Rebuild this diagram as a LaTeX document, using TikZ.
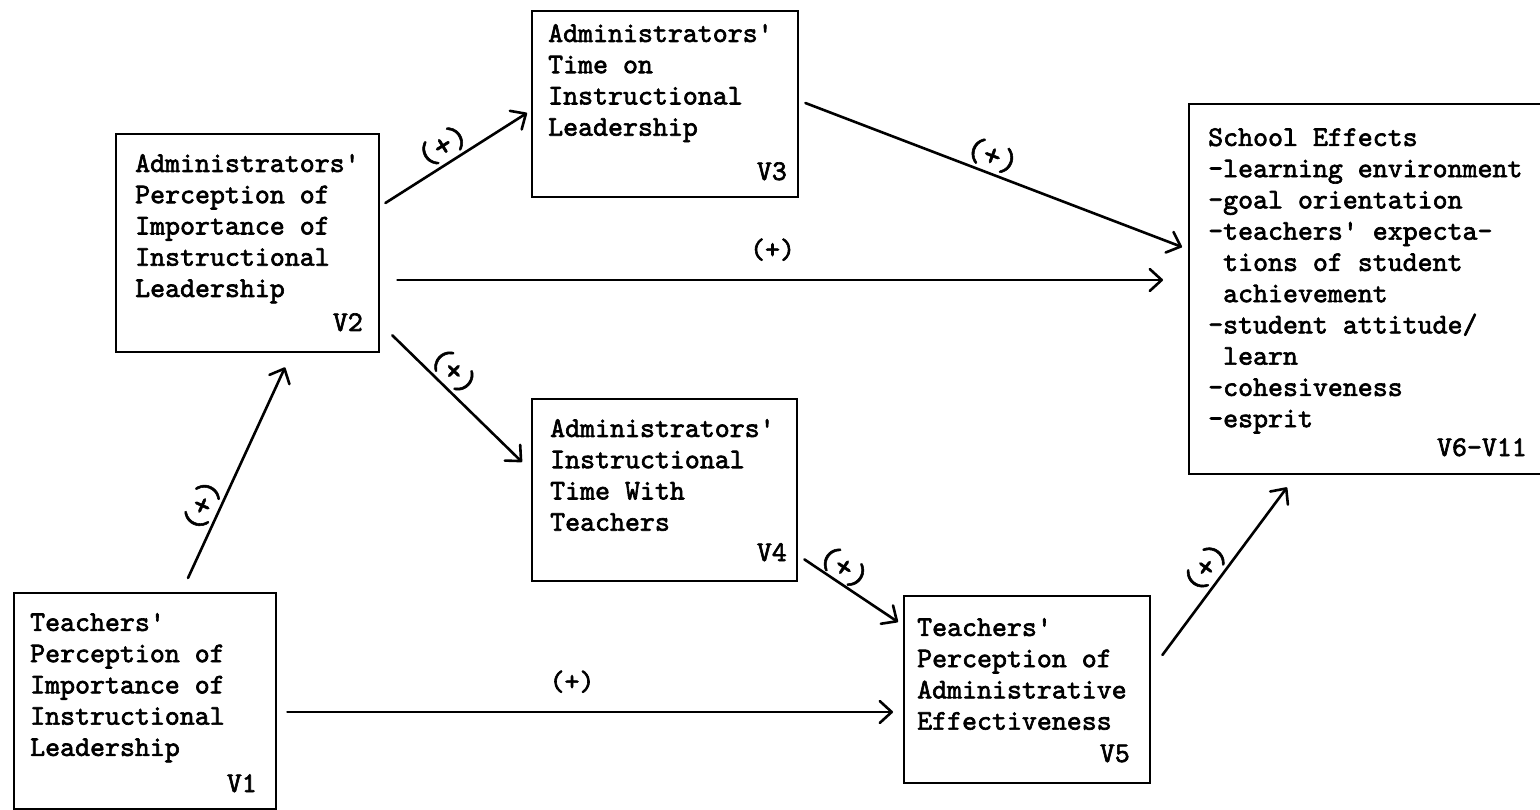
\documentclass[tikz,border=0pt]{standalone}
\usepackage{fontspec}
\usetikzlibrary{arrows.meta,calc}
% heavy typewriter face for the box texts, lighter one for the hand-written signs
\newfontfamily\tyfam{lmmono10-regular.otf}[FakeBold=2.2]
\newfontfamily\handfam{lmmono10-regular.otf}[FakeBold=1.6]
\newcommand\tyfont{\tyfam\fontsize{28.5}{31.25}\selectfont}
\newcommand\handfont{\handfam\fontsize{34}{36}\selectfont}
\newcommand\q{\textquotesingle}
\begin{document}
\begin{tikzpicture}[x=1pt,y=-1pt,
  box/.style={draw, line width=2.4pt, inner sep=0pt, anchor=north west},
  body/.style={anchor=north west, inner sep=0pt, align=left, font=\tyfont},
  tag/.style={anchor=base east, inner sep=0pt, font=\tyfont},
  link/.style={line width=2.6pt, line cap=round,
    -{Straight Barb[length=12pt,width=22pt,line cap=round,line join=round]}},
  sign/.style={font=\handfont, anchor=south, inner sep=3pt},
  typed/.style={font=\tyfont, above=18pt, inner sep=0pt}]
\clip (0,0) rectangle (1540,810);

% boxes
\node[box, minimum width=262pt, minimum height=216pt] (v1) at (13,592) {};
\node[box, minimum width=263pt, minimum height=218pt] (v2) at (115,133) {};
\node[box, minimum width=266pt, minimum height=186pt] (v3) at (531,10) {};
\node[box, minimum width=265pt, minimum height=182pt] (v4) at (531,398) {};
\node[box, minimum width=246pt, minimum height=187pt] (v5) at (903,595) {};
\node[box, minimum width=364pt, minimum height=370pt] (v6) at (1188,103) {};

% box texts
\node[body] (v1text) at (30,613) {Teachers\q\\Perception of\\Importance of\\Instructional\\Leadership};
\node[tag] (v1tag) at (257,792) {V1};
\node[body] (v2text) at (135,154) {Administrators\q\\Perception of\\Importance of\\Instructional\\Leadership};
\node[tag] (v2tag) at (363,331) {V2};
\node[body] (v3text) at (548,24) {Administrators\q\\Time on\\Instructional\\Leadership};
\node[tag] (v3tag) at (787,180) {V3};
\node[body] (v4text) at (550,419) {Administrators\q\\Instructional\\Time With\\Teachers};
\node[tag] (v4tag) at (787,561) {V4};
\node[body] (v5text) at (917,618) {Teachers\q\\Perception of\\Administrative\\Effectiveness};
\node[tag] (v5tag) at (1130,762) {V5};
\node[body] (v6text) at (1208,128) {School Effects\\-learning environment\\-goal orientation\\-teachers\q{} expecta-\\\phantom{-}tions of student\\\phantom{-}achievement\\-student attitude/\\\phantom{-}learn\\-cohesiveness\\-esprit};
\node[tag] (v6tag) at (1527,456) {V6-V11};

% paths
\draw[link] ([shift={(175,-14)}]v1.north west) -- node[sign, pos=0.31, rotate=65.5] (s12) {(+)} ([shift={(170,14)}]v2.south west);
\draw[link] ([shift={(5,70)}]v2.north east) -- node[sign, pos=0.47, rotate=32] (s23) {(+)} ([shift={(-4,103)}]v3.north west);
\draw[link] ([shift={(12,-18)}]v2.south east) -- node[sign, pos=0.38, rotate=-44.3] (s24) {(+)} ([shift={(-9,64)}]v4.north west);
\draw[link] ([shift={(17,147)}]v2.north east) -- node[typed, pos=0.49] (s26) {(+)} ([shift={(-25,177)}]v6.north west);
\draw[link] ([shift={(6,93)}]v3.north east) -- node[sign, pos=0.48, rotate=-20.8] (s36) {(+)} ([shift={(-6,144)}]v6.north west);
\draw[link] ([shift={(6,-23)}]v4.south east) -- node[sign, pos=0.33, rotate=-34.1, inner sep=1pt] (s45) {(+)} ([shift={(-5,27)}]v5.north west);
\draw[link] ([shift={(10,120)}]v1.north east) -- node[typed, pos=0.47] (s15) {(+)} ([shift={(-10,117)}]v5.north west);
\draw[link] ([shift={(11,60)}]v5.north east) -- node[sign, pos=0.46, rotate=53.2] (s56) {(+)} ([shift={(99,12)}]v6.south west);
\end{tikzpicture}
\end{document}
